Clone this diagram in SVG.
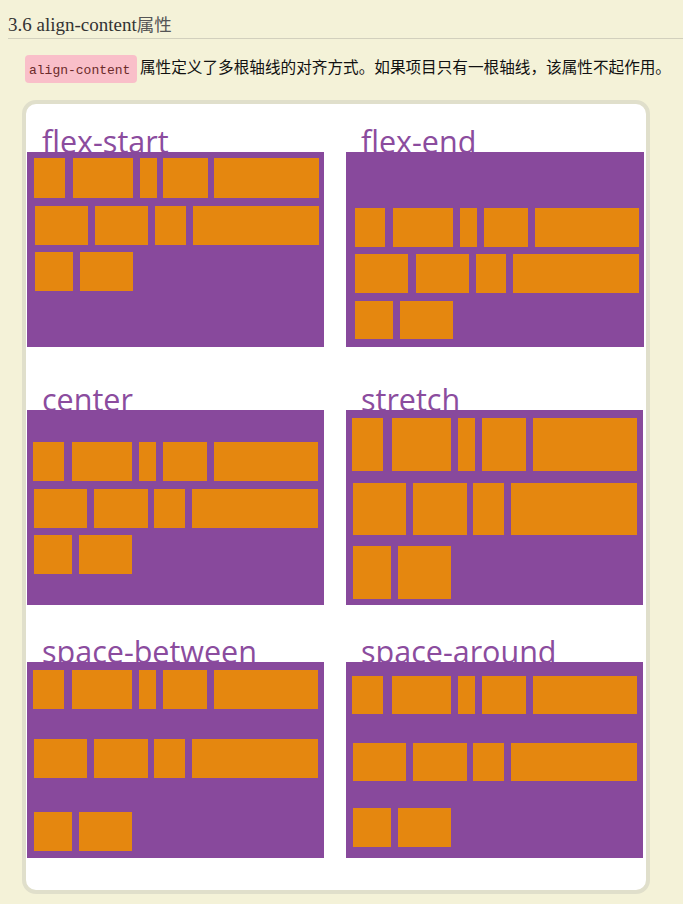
<svg xmlns="http://www.w3.org/2000/svg" width="683" height="904" viewBox="0 0 683 904">
<style>
.lbl{font-family:"Open Sans","DejaVu Sans",sans-serif;font-size:30.5px;fill:#8b4c9e}
.pan{fill:#88499c}
.it{fill:#e5870f}
</style>
<rect x="0" y="0" width="683" height="904" fill="#f4f2d8"/>
<g id="header">
<text x="8" y="30.5" font-family="Liberation Serif,'Noto Sans CJK SC',serif" font-size="19" fill="#333">3.6 align-content<tspan font-family="'Noto Sans CJK SC',sans-serif" font-size="17.5" fill="#555">属性</tspan></text>
<line x1="8" y1="38.5" x2="683" y2="38.5" stroke="#d2d0bd" stroke-width="1"/>
</g>
<g id="intro">
<rect x="25" y="55" width="112" height="28" rx="4" fill="#f9bfc9"/>
<text x="29" y="74" font-family="Liberation Mono,monospace" font-size="13" fill="#6b2a2a">align-content</text>
<text x="140" y="73" font-family="'Noto Sans CJK SC',sans-serif" font-size="15.6" fill="#111" textLength="531" lengthAdjust="spacingAndGlyphs">属性定义了多根轴线的对齐方式。如果项目只有一根轴线，该属性不起作用。</text>
</g>
<g id="frame">
<rect x="24" y="102" width="624" height="790" rx="12" fill="#fff" stroke="#e0dfcb" stroke-width="4"/>
</g>
<g id="flex-start">
<text class="lbl" x="42" y="153">flex-start</text>
<rect class="pan" x="27" y="152" width="297" height="195"/>
<rect class="it" x="34" y="158" width="31" height="40"/>
<rect class="it" x="73" y="158" width="60" height="40"/>
<rect class="it" x="140" y="158" width="17" height="40"/>
<rect class="it" x="163" y="158" width="45" height="40"/>
<rect class="it" x="214" y="158" width="105" height="40"/>
<rect class="it" x="35" y="206" width="53" height="39"/>
<rect class="it" x="95" y="206" width="53" height="39"/>
<rect class="it" x="155" y="206" width="31" height="39"/>
<rect class="it" x="193" y="206" width="126" height="39"/>
<rect class="it" x="35" y="252" width="38" height="39"/>
<rect class="it" x="80" y="252" width="53" height="39"/>
</g>
<g id="flex-end">
<text class="lbl" x="361" y="153">flex-end</text>
<rect class="pan" x="346" y="152" width="298" height="195"/>
<rect class="it" x="355" y="208" width="30" height="39"/>
<rect class="it" x="393" y="208" width="60" height="39"/>
<rect class="it" x="460" y="208" width="17" height="39"/>
<rect class="it" x="484" y="208" width="44" height="39"/>
<rect class="it" x="535" y="208" width="104" height="39"/>
<rect class="it" x="355" y="254" width="53" height="39"/>
<rect class="it" x="416" y="254" width="53" height="39"/>
<rect class="it" x="476" y="254" width="30" height="39"/>
<rect class="it" x="513" y="254" width="126" height="39"/>
<rect class="it" x="355" y="301" width="38" height="38"/>
<rect class="it" x="400" y="301" width="53" height="38"/>
</g>
<g id="center">
<text class="lbl" x="42" y="411">center</text>
<rect class="pan" x="27" y="410" width="297" height="195"/>
<rect class="it" x="33" y="442" width="31" height="39"/>
<rect class="it" x="72" y="442" width="60" height="39"/>
<rect class="it" x="139" y="442" width="17" height="39"/>
<rect class="it" x="163" y="442" width="44" height="39"/>
<rect class="it" x="214" y="442" width="104" height="39"/>
<rect class="it" x="34" y="489" width="53" height="39"/>
<rect class="it" x="94" y="489" width="54" height="39"/>
<rect class="it" x="154" y="489" width="31" height="39"/>
<rect class="it" x="192" y="489" width="126" height="39"/>
<rect class="it" x="34" y="535" width="38" height="39"/>
<rect class="it" x="79" y="535" width="53" height="39"/>
</g>
<g id="stretch">
<text class="lbl" x="361" y="411">stretch</text>
<rect class="pan" x="346" y="410" width="297" height="195"/>
<rect class="it" x="352" y="418" width="31" height="53"/>
<rect class="it" x="392" y="418" width="59" height="53"/>
<rect class="it" x="458" y="418" width="17" height="53"/>
<rect class="it" x="482" y="418" width="44" height="53"/>
<rect class="it" x="533" y="418" width="104" height="53"/>
<rect class="it" x="353" y="483" width="53" height="52"/>
<rect class="it" x="413" y="483" width="54" height="52"/>
<rect class="it" x="473" y="483" width="31" height="52"/>
<rect class="it" x="511" y="483" width="126" height="52"/>
<rect class="it" x="353" y="546" width="38" height="53"/>
<rect class="it" x="398" y="546" width="53" height="53"/>
</g>
<g id="space-between">
<text class="lbl" x="42" y="663">space-between</text>
<rect class="pan" x="27" y="662" width="297" height="196"/>
<rect class="it" x="33" y="670" width="31" height="39"/>
<rect class="it" x="72" y="670" width="60" height="39"/>
<rect class="it" x="139" y="670" width="17" height="39"/>
<rect class="it" x="163" y="670" width="44" height="39"/>
<rect class="it" x="214" y="670" width="104" height="39"/>
<rect class="it" x="34" y="739" width="53" height="39"/>
<rect class="it" x="94" y="739" width="54" height="39"/>
<rect class="it" x="154" y="739" width="31" height="39"/>
<rect class="it" x="192" y="739" width="126" height="39"/>
<rect class="it" x="34" y="812" width="38" height="39"/>
<rect class="it" x="79" y="812" width="53" height="39"/>
</g>
<g id="space-around">
<text class="lbl" x="361" y="663">space-around</text>
<rect class="pan" x="346" y="662" width="297" height="196"/>
<rect class="it" x="352" y="676" width="31" height="38"/>
<rect class="it" x="392" y="676" width="59" height="38"/>
<rect class="it" x="458" y="676" width="17" height="38"/>
<rect class="it" x="482" y="676" width="44" height="38"/>
<rect class="it" x="533" y="676" width="104" height="38"/>
<rect class="it" x="353" y="743" width="53" height="38"/>
<rect class="it" x="413" y="743" width="54" height="38"/>
<rect class="it" x="473" y="743" width="31" height="38"/>
<rect class="it" x="511" y="743" width="126" height="38"/>
<rect class="it" x="353" y="808" width="38" height="39"/>
<rect class="it" x="398" y="808" width="53" height="39"/>
</g>
<g id="connectors"/>
</svg>
